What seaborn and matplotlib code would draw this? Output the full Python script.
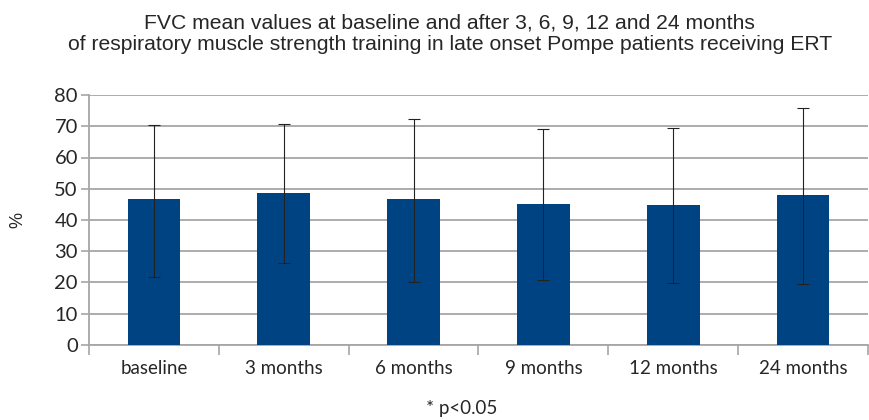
import numpy as np
import pandas as pd
import seaborn as sns
import matplotlib.pyplot as plt

# values
categories = ["baseline", "3 months", "6 months", "9 months", "12 months", "24 months"]
fvc_mean = [46.6, 48.7, 46.7, 45.2, 44.8, 48.0]
err_low = [21.9, 26.3, 20.3, 20.7, 19.7, 19.5]
err_high = [70.5, 70.7, 72.4, 69.0, 69.3, 76.0]
y_ticks = [0, 10, 20, 30, 40, 50, 60, 70, 80]

BAR_COLOR = "#004383"
GRID_COLOR = "#a6a6a6"


def build_frame() -> pd.DataFrame:
    return pd.DataFrame({"time": categories, "fvc": fvc_mean})


def main() -> None:
    df = build_frame()

    sns.set_style("white")
    plt.rcParams["font.family"] = ["Liberation Sans", "DejaVu Sans"]

    fig = plt.figure(figsize=(8.7, 4.2), dpi=100)
    ax = fig.add_axes([0.1023, 0.1786, 0.8954, 0.5952])

    sns.barplot(data=df, x="time", y="fvc", color=BAR_COLOR, width=0.405,
                saturation=1, edgecolor=BAR_COLOR, linewidth=0, ax=ax, zorder=3)

    mean = np.array(fvc_mean)
    yerr = [mean - np.array(err_low), np.array(err_high) - mean]
    ax.errorbar(np.arange(len(categories)), mean, yerr=yerr, fmt="none",
                ecolor="#222222", elinewidth=0.8, capsize=4.5, capthick=0.8,
                zorder=4)

    ax.set_ylim(0, 80)
    ax.set_xlim(-0.5, len(categories) - 0.5)
    ax.set_yticks(y_ticks)
    ax.set_yticklabels([str(t) for t in y_ticks], fontfamily="Lato", fontsize=14.5)
    ax.set_xticks(np.arange(len(categories)))
    ax.set_xticklabels(categories, fontfamily="Lato", fontsize=13.5)
    ax.tick_params(axis="x", length=0, pad=11)
    ax.tick_params(axis="y", length=6, width=1.2, color=GRID_COLOR, left=True, pad=2)

    # category boundary ticks below the axis
    ax.set_xticks(np.arange(len(categories) + 1) - 0.5, minor=True)
    ax.tick_params(axis="x", which="minor", length=7, width=1.2, color=GRID_COLOR,
                   bottom=True)

    ax.grid(axis="y", color=GRID_COLOR, linewidth=1.3, zorder=0)
    ax.set_axisbelow(True)
    for side in ["top", "right"]:
        ax.spines[side].set_visible(False)
    for side in ["left", "bottom"]:
        ax.spines[side].set_color(GRID_COLOR)
        ax.spines[side].set_linewidth(1.3)

    ax.set_xlabel("")
    ax.set_ylabel("%", fontsize=13, labelpad=20)

    fig.text(0.517, 0.968,
             "FVC mean values at baseline and after 3, 6, 9, 12 and 24 months\n"
             "of respiratory muscle strength training in late onset Pompe patients receiving ERT",
             ha="center", va="top", fontsize=15.2, linespacing=1.15)
    fig.text(0.531, 0.028, "* p<0.05", ha="center", va="center",
             fontfamily="Lato", fontsize=13.5)

    fig.savefig("out.png", dpi=100)


if __name__ == "__main__":
    main()
